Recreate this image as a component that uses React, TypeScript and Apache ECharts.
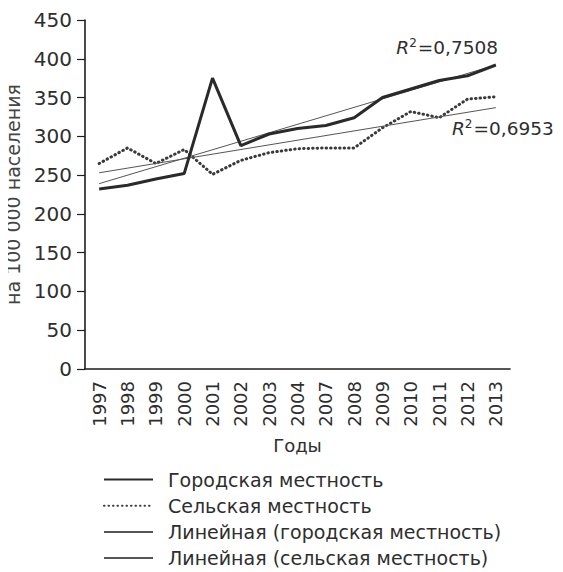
import React, { useEffect, useRef } from "react";
import * as echarts from "echarts";

const years = ["1997", "1998", "1999", "2000", "2001", "2002", "2003", "2004", "2007", "2008", "2009", "2010", "2011", "2012", "2013"];
const urban = [232, 237, 245, 252, 375, 288, 303, 310, 314, 324, 350, 361, 372, 378, 392];
const rural = [265, 285, 265, 283, 251, 269, 279, 284, 285, 285, 311, 332, 324, 348, 351];
const urbanTrendEnds = [239, 392];
const ruralTrendEnds = [253, 337];
const seriesNames = [
  "Городская местность",
  "Сельская местность",
  "Линейная (городская местность)",
  "Линейная (сельская местность)",
];
const r2Urban = "0,7508";
const r2Rural = "0,6953";

export default function App() {
  const ref = useRef<HTMLDivElement>(null);
  useEffect(() => {
    if (!ref.current) return;
    const chart = echarts.init(ref.current, null, { renderer: "svg" });
    const font = "'DejaVu Sans', sans-serif";
    const ink = "#2e2e2e";
    const first = years[0];
    const last = years[years.length - 1];
    const r2Rich = {
      i: { fontStyle: "italic", fontSize: 18.5, fill: ink, fontFamily: font },
      s: { fontSize: 12, fill: ink, fontFamily: font, padding: [0, 1, 9, 0] },
      t: { fontSize: 18.5, fill: ink, fontFamily: font },
    };
    chart.setOption({
      animation: false,
      textStyle: { fontFamily: font },
      grid: { left: 85, right: 53, top: 12, bottom: 203, outerBoundsMode: "none", containLabel: false },
      xAxis: {
        type: "category",
        data: years,
        boundaryGap: true,
        name: "Годы",
        nameLocation: "middle",
        nameGap: 67,
        nameTextStyle: { fontSize: 18, color: ink, fontFamily: font },
        axisLine: { lineStyle: { color: "#1e1e1e", width: 1.6 } },
        axisTick: { show: false },
        axisLabel: { rotate: 90, fontSize: 18, color: ink, margin: 12, fontFamily: font },
      },
      yAxis: {
        type: "value",
        min: 0,
        max: 450,
        interval: 50,
        name: "на 100 000 населения",
        nameLocation: "middle",
        nameGap: 49,
        nameTextStyle: { fontSize: 19, color: "#444", fontFamily: font },
        axisLine: { show: true, lineStyle: { color: "#1e1e1e", width: 1.6 } },
        axisTick: { show: true, length: 8, lineStyle: { color: "#1e1e1e", width: 1.2 } },
        splitLine: { show: false },
        axisLabel: { fontSize: 20, color: ink, margin: 13, fontFamily: font },
      },
      legend: {
        orient: "vertical",
        left: 103,
        top: 462,
        padding: 0,
        itemWidth: 49,
        itemHeight: 14,
        itemGap: 7.2,
        itemStyle: { opacity: 0 },
        textStyle: { fontSize: 19, color: ink, fontFamily: font, padding: [0, 0, 0, 10] },
        data: seriesNames,
      },
      graphic: [
        {
          type: "text",
          x: 498,
          y: 39,
          style: {
            text: "{i|R}{s|2}{t|=" + r2Urban + "}",
            rich: r2Rich,
            align: "right",
            verticalAlign: "middle",
          },
        },
        {
          type: "text",
          x: 452,
          y: 120,
          style: {
            text: "{i|R}{s|2}{t|=" + r2Rural + "}",
            rich: r2Rich,
            align: "left",
            verticalAlign: "middle",
          },
        },
      ],
      series: [
        {
          name: seriesNames[0],
          type: "line",
          data: urban,
          symbol: "none",
          lineStyle: { color: "#2a2a2a", width: 3 },
          itemStyle: { color: "#2a2a2a" },
          z: 4,
        },
        {
          name: seriesNames[1],
          type: "line",
          data: rural,
          symbol: "none",
          lineStyle: { color: "#3a3a3a", width: 3, type: [0.5, 4], cap: "round" },
          itemStyle: { color: "#3a3a3a" },
          z: 3,
        },
        {
          name: seriesNames[2],
          type: "line",
          data: [[first, urbanTrendEnds[0]], [last, urbanTrendEnds[1]]],
          symbol: "none",
          lineStyle: { color: "#555", width: 1 },
          itemStyle: { color: "#555" },
        },
        {
          name: seriesNames[3],
          type: "line",
          data: [[first, ruralTrendEnds[0]], [last, ruralTrendEnds[1]]],
          symbol: "none",
          lineStyle: { color: "#555", width: 1 },
          itemStyle: { color: "#555" },
        },
      ],
    });
    return () => chart.dispose();
  }, []);
  return <div ref={ref} style={{ width: 563, height: 564, marginLeft: -8 }} />;
}
